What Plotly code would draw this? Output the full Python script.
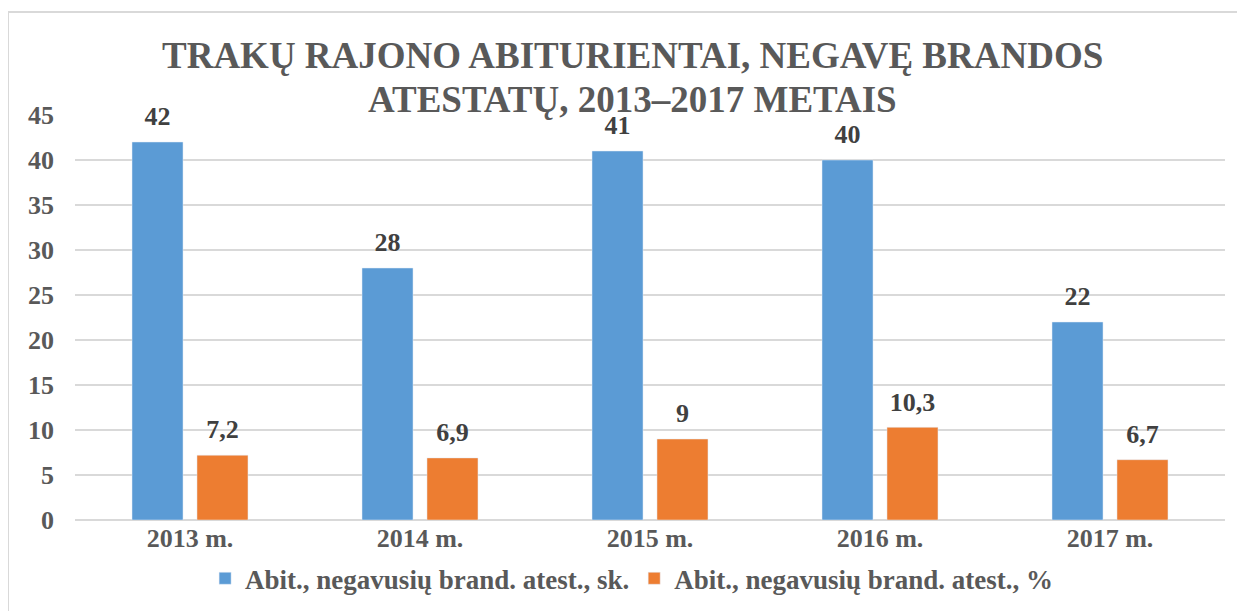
import plotly.graph_objects as go

categories = ["2013 m.", "2014 m.", "2015 m.", "2016 m.", "2017 m."]
count_values = [42, 28, 41, 40, 22]
percent_values = [7.2, 6.9, 9, 10.3, 6.7]
series_names = ["Abit., negavusių brand. atest., sk.", "Abit., negavusių brand. atest., %"]
y_ticks = [0, 5, 10, 15, 20, 25, 30, 35, 40, 45]
title_lines = ["TRAKŲ RAJONO ABITURIENTAI, NEGAVĘ BRANDOS", "ATESTATŲ, 2013–2017 METAIS"]

def fmt(v):
    return (f"{v:g}").replace(".", ",")

FONT = "Liberation Serif, Times New Roman, serif"
lab_font = dict(family=FONT, size=9, color="#404040")

def label(v):
    return f"<span style='font-size:26px'><b>{fmt(v)}</b></span><br> "

fig = go.Figure()
fig.add_trace(go.Bar(
    x=categories, y=count_values, name=f"<b>{series_names[0]}</b>",
    marker=dict(color="#5B9BD5"),
    text=[label(v) for v in count_values], textposition="outside",
    textfont=lab_font, cliponaxis=False,
))
fig.add_trace(go.Bar(
    x=categories, y=percent_values, name=f"<b>{series_names[1]}</b>",
    marker=dict(color="#ED7D31"),
    text=[label(v) for v in percent_values], textposition="outside",
    textfont=lab_font, cliponaxis=False,
))

fig.update_layout(
    width=1245, height=611,
    margin=dict(l=67, r=28, t=107, b=99, autoexpand=False),
    paper_bgcolor="white", plot_bgcolor="white",
    barmode="group", bargap=0.435, bargroupgap=0.215,
    showlegend=True,
    legend=dict(
        orientation="h", x=0.484, xanchor="center", y=-0.145, yanchor="middle",
        font=dict(family=FONT, size=27, color="#595959"),
        itemwidth=30, tracegroupgap=0,
    ),
)
title_y = [(520 - 56) / 405, (520 - 99) / 405]
for line, yy in zip(title_lines, title_y):
    fig.add_annotation(
        text=f"<b>{line}</b>", xref="paper", yref="paper",
        x=(632.5 - 75) / 1150, y=yy, xanchor="center", yanchor="middle",
        showarrow=False, font=dict(family=FONT, size=37, color="#595959"),
    )

fig.update_xaxes(
    tickvals=categories, ticktext=[f"<b>{c}</b>" for c in categories],
    tickfont=dict(family=FONT, size=26, color="#595959"),
    showgrid=False, showline=False, ticks="", automargin=False,
)
fig.update_yaxes(
    range=[0, 45], tickvals=y_ticks, ticktext=[f"<b>{t}</b>" for t in y_ticks],
    tickfont=dict(family=FONT, size=26, color="#595959"),
    showgrid=True, gridcolor="#D9D9D9", gridwidth=1.5,
    zeroline=True, zerolinecolor="#D9D9D9", zerolinewidth=1.5,
    showline=False, ticks="", ticklabelstandoff=20, automargin=False,
)

fig.add_shape(type="rect", xref="paper", yref="paper",
              x0=-67/1150, x1=1.05, y0=-0.3, y1=508/405,
              line=dict(color="#D9D9D9", width=2), fillcolor="rgba(0,0,0,0)", layer="below")

fig.write_html("out.html")
